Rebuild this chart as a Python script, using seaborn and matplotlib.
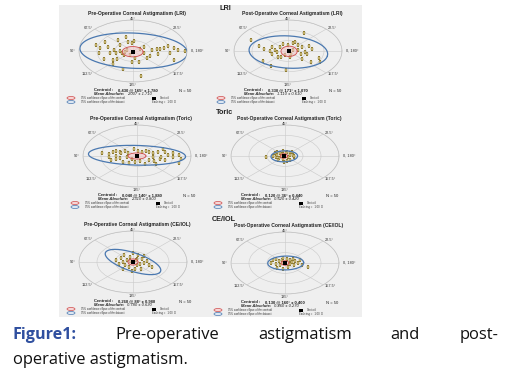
import numpy as np
import matplotlib
matplotlib.use("Agg")
import matplotlib.pyplot as plt
import seaborn as sns
from matplotlib.patches import Rectangle, Ellipse

sns.set_theme(style="white")
plt.rcParams['font.family'] = ['Liberation Sans', 'DejaVu Sans']

# ---------------- data (double-angle vector components, dioptres) ----------------
angle_labels = ["0, 180°", "22.5°", "45°", "67.5°", "90°", "112.5°", "135°", "157.5°"]
ring_values = [1, 2, 3]

lri_pre_x = [-1.56, -2.06, -0.81, -0.40, -0.27, -0.75, -1.37, -1.08, -1.83, -1.90, -1.29, -1.10,
             -0.88, -0.71, -0.62, -0.44, -0.33, 0.08, -0.06, 0.40, 0.63, 0.12, -0.08, 0.33,
             0.79, 0.92, 1.08, 1.31, 1.50, 1.71, 1.94, 2.08, 2.29, 2.52, 2.87, 2.27, 1.40,
             -0.56, 0.44, -1.60, -0.94, -0.52, -0.17, 0.63, -1.13]
lri_pre_y = [0.83, 0.60, 1.03, 1.37, 0.87, 0.60, 0.43, 0.10, 0.27, -0.23, -0.23, -0.83,
             -0.77, 0.03, -0.23, -0.10, 0.10, 1.00, 0.73, 0.17, -0.23, -0.63, -1.07, -1.07,
             -0.63, -0.47, 0.10, 0.17, 0.17, 0.33, 0.53, -0.23, 0.27, 0.10, 0.00, -0.83, -0.30,
             -1.73, -2.40, -0.73, -0.23, -0.40, -0.40, 0.43, -1.23]

lri_post_x = [-2.06, 0.87, -1.63, -1.35, -0.87, -0.71, -0.87, -0.58, -0.42, -0.29, 0.00, 0.29,
              0.38, 0.58, 0.77, 1.15, 1.35, 1.06, 0.96, 0.73, 0.29, -0.19, 0.10, -0.38, 0.77,
              1.25, 1.73, 1.79, -1.40, -0.96, -0.13, -0.62, 0.19, -1.02, 0.58]
lri_post_y = [1.07, 1.73, 0.47, 0.23, 0.40, 0.13, -0.27, -0.60, 0.40, 0.67, 0.57, 0.73,
              0.83, 0.57, 0.40, 0.47, 0.23, -0.27, -0.10, -0.27, 0.07, -0.43, -0.60, -0.60, -0.77,
              -1.10, -0.67, -1.10, -0.93, -1.43, -1.87, -0.10, -0.27, 0.00, 0.07]

toric_pre_x = [-1.92, -1.54, -1.35, -1.15, -0.96, -0.87, -0.67, -0.48, -0.19, 0.04, 0.29, 0.48,
               0.67, 0.87, 1.15, 1.44, 1.58, 1.73, 2.02, 2.31, 2.46, 2.35, 1.54, 1.25, 0.96,
               0.67, 0.42, 0.19, -0.29, -0.58, -0.96, -1.19, -1.44, -1.58, -1.15, -0.77, -0.42,
               -0.10, 0.87, 1.06, 2.02, 1.35]
toric_pre_y = [0.33, 0.20, 0.43, 0.53, 0.43, 0.27, 0.53, 0.33, 0.67, 0.53, 0.43, 0.53,
               0.40, 0.27, 0.43, 0.67, 0.43, 0.10, -0.07, 0.10, -0.33, -0.67, -0.40, -0.33, -0.47,
               -0.40, -0.73, -0.47, -0.33, -0.13, -0.23, -0.33, -0.40, -0.13, 0.00, -0.57, -0.67,
               -0.57, -0.13, -0.73, 0.27, -0.07]

toric_post_x = [-1.06, -0.58, -0.44, -0.29, -0.13, 0.13, 0.29, 0.44, 0.48, 0.29, 0.13, -0.10,
                -0.33, -0.52, -0.44, -0.25, 0.19, 0.25, 0.06, -0.19, -0.38, 0.38, 0.52, -0.06, -0.67]
toric_post_y = [-0.13, 0.27, 0.40, 0.33, 0.47, 0.37, 0.27, 0.10, -0.13, -0.40, -0.53, -0.33,
                -0.23, -0.13, 0.07, 0.00, -0.13, 0.13, 0.27, 0.17, -0.40, 0.43, 0.00, -0.60, 0.00]

ceiol_pre_x = [-0.67, -0.48, -0.35, -0.19, -0.54, -0.77, -0.42, -0.23, 0.10, -0.04, 0.23, 0.38,
               0.62, 0.77, 0.48, 0.29, 0.23, 0.15, 0.62, 0.87, 1.06, -0.19, -0.96, 0.00, -0.58, 0.42]
ceiol_pre_y = [0.43, 0.67, 0.23, 0.10, 0.00, -0.17, -0.33, -0.50, -0.67, -0.83, -0.33, -0.17,
               -0.10, 0.10, 0.33, 0.67, 0.33, 0.17, 0.57, -0.33, -0.50, 0.50, 0.17, 0.83, -0.67, -0.67]

ceiol_post_x = [-0.67, -0.48, -0.33, -0.19, -0.10, 0.10, 0.25, 0.44, 0.58, 0.71, 0.83, 1.25,
                0.96, 0.48, 0.29, -0.29, -0.52, -0.77, -0.10, 0.19, -0.44, 0.38, -0.13]
ceiol_post_y = [0.27, 0.43, 0.20, 0.33, 0.53, 0.43, 0.27, 0.43, 0.20, 0.00, 0.27, -0.40,
                -0.23, -0.23, -0.13, -0.23, -0.13, 0.00, -0.57, -0.40, -0.47, 0.10, 0.00]

# ellipse parameters: centre x, centre y, semi-axis a, semi-axis b, rotation (deg)
blue_ellipses = [(0.04, 0.03, 3.00, 1.70, -6), (0.02, -0.10, 2.20, 1.55, -10),
                 (0.00, 0.07, 2.70, 0.95, -3), (-0.04, -0.03, 0.74, 0.53, 5),
                 (0.00, 0.00, 1.80, 0.80, -35), (0.04, 0.00, 1.00, 0.67, 3)]
red_ellipses = [(-0.02, -0.07, 0.58, 0.50, 0), (0.06, -0.03, 0.45, 0.50, 0),
                (0.00, 0.00, 0.50, 0.30, 0), (-0.06, 0.00, 0.20, 0.22, 0),
                (0.00, 0.00, 0.28, 0.30, 0), (0.00, 0.00, 0.22, 0.22, 0)]
centroid_x = [-0.02, 0.06, 0.00, -0.06, 0.00, 0.00]
centroid_y = [-0.07, -0.03, 0.00, 0.00, 0.00, 0.00]

titles = ["Pre-Operative Corneal Astigmatism (LRI)", "Post-Operative Corneal Astigmatism (LRI)",
          "Pre-Operative Corneal Astigmatism (Toric)", "Post-Operative Corneal Astigmatism (Toric)",
          "Pre-Operative Corneal Astigmatism (CE/IOL)", "Post-Operative Corneal Astigmatism (CE/IOL)"]
centroid_text = ["0.430 @ 165° ± 1.780", "0.330 @ 171° ± 1.070", "0.040 @ 140° ± 1.880",
                 "0.120 @ 36° ± 0.440", "0.260 @ 88° ± 0.980", "0.130 @ 160° ± 0.400"]
mean_text = ["2.007 ± 1.710", "1.110 ± 0.610", "2.310 ± 0.800",
             "0.520 ± 0.420", "0.780 ± 0.630", "0.460 ± 0.270"]
n_text = ["N = 50"] * 6
sections = ["LRI", "Toric", "CE/IOL"]

xs = [lri_pre_x, lri_post_x, toric_pre_x, toric_post_x, ceiol_pre_x, ceiol_post_x]
ys = [lri_pre_y, lri_post_y, toric_pre_y, toric_post_y, ceiol_pre_y, ceiol_post_y]

# ---------------- layout ----------------
W, H = 505, 379
fig = plt.figure(figsize=(W / 100, H / 100), dpi=100)
fig.patch.set_facecolor("white")


def fx(x):
    return x / W


def fy(y):
    return 1 - y / H


fig.patches.append(Rectangle((fx(59), fy(317)), (362 - 59) / W, (317 - 5) / H,
                             transform=fig.transFigure, facecolor="#efefef",
                             edgecolor="none", zorder=-10))

centers = [(133, 51), (288, 51), (137, 156), (285, 156), (133, 262), (285, 263)]
RX, RY = 54, 31
PT_FACE, PT_EDGE = "#dccb85", "#8f7d35"
BLUE, RED = "#4a78b0", "#cf4a4a"
label_align = [("left", 3.2), ("left", 3.15), ("center", 3.12), ("right", 3.15),
               ("right", 3.2), ("right", 3.15), ("center", 3.25), ("left", 3.15)]


def ellipse_polar(p):
    cx, cy, a, b, ang = p
    t = np.linspace(0, 2 * np.pi, 300)
    ca, sa = np.cos(np.radians(ang)), np.sin(np.radians(ang))
    ex = cx + a * np.cos(t) * ca - b * np.sin(t) * sa
    ey = cy + a * np.cos(t) * sa + b * np.sin(t) * ca
    return np.unwrap(np.arctan2(ey, ex)), np.hypot(ex, ey)


for i, (cx, cy) in enumerate(centers):
    ax = fig.add_axes([fx(cx - RX), fy(cy + RY), 2 * RX / W, 2 * RY / H], projection="polar")
    ax.set_aspect("auto")
    ax.set_facecolor("none")
    ax.set_zorder(2)
    x = np.array(xs[i])
    y = np.array(ys[i])
    sns.scatterplot(x=np.arctan2(y, x), y=np.hypot(x, y), ax=ax, marker="s", s=3.6,
                    color=PT_FACE, edgecolor=PT_EDGE, linewidth=0.3, legend=False, zorder=3)
    th, rr = ellipse_polar(blue_ellipses[i])
    ax.plot(th, rr, color=BLUE, lw=0.9, zorder=4)
    th, rr = ellipse_polar(red_ellipses[i])
    ax.fill(th, rr, color="#f2c4c4", alpha=0.55, lw=0, zorder=4.5)
    ax.plot(th, rr, color=RED, lw=0.6, zorder=5)
    ax.scatter([np.arctan2(centroid_y[i], centroid_x[i])], [np.hypot(centroid_x[i], centroid_y[i])],
               marker="s", s=5, color="black", zorder=6, linewidths=0)
    ax.set_ylim(0, 3)
    angs = np.arange(0, 360, 45)
    ax.set_rgrids(ring_values, labels=[""] * len(ring_values))
    ax.set_thetagrids(angs, labels=[""] * len(angs))
    ax.grid(color="#c9c9c9", lw=0.4)
    ax.spines["polar"].set_color("#c0c0c0")
    ax.spines["polar"].set_linewidth(0.5)
    ax.set_xlabel("")
    ax.set_ylabel("")
    for a_deg, lab, (ha, rl) in zip(angs, angle_labels, label_align):
        ax.text(np.radians(a_deg), rl, lab, fontsize=2.8, ha=ha, va="center",
                color="#333333", clip_on=False)

    sh = 0 if i % 2 == 0 else -5
    # title
    fig.text(fx(cx + 4), fy(cy - 37.8), titles[i], fontsize=3.6, fontweight="bold",
             ha="center", va="center", color="#222222")
    # statistics block
    fig.text(fx(cx - 39 + sh), fy(cy + 39), "Centroid :", fontsize=3.0, fontweight="bold",
             ha="left", va="center", color="#222222")
    fig.text(fx(cx - 15 + sh), fy(cy + 39), centroid_text[i], fontsize=3.0, fontweight="bold",
             ha="left", va="center", color="#222222")
    fig.text(fx(cx + 46 + sh), fy(cy + 40), n_text[i], fontsize=3.0,
             ha="left", va="center", color="#222222")
    fig.text(fx(cx - 39 + sh), fy(cy + 43), "Mean Absolute:", fontsize=3.0, fontstyle="italic",
             fontweight="bold", ha="left", va="center", color="#222222")
    fig.text(fx(cx - 6 + sh), fy(cy + 43), mean_text[i], fontsize=3.0, fontstyle="italic",
             ha="left", va="center", color="#222222")
    # legend
    fig.patches.append(Ellipse((fx(cx - 62 + sh), fy(cy + 47)), 8 / W, 3 / H,
                               transform=fig.transFigure, facecolor="#f6d6d6",
                               edgecolor=RED, lw=0.5))
    fig.patches.append(Ellipse((fx(cx - 62 + sh), fy(cy + 51)), 8 / W, 3 / H,
                               transform=fig.transFigure, facecolor="#dde7f3",
                               edgecolor=BLUE, lw=0.5))
    fig.text(fx(cx - 52 + sh), fy(cy + 47), "95% confidence ellipse of the centroid", fontsize=1.9,
             ha="left", va="center", color="#333333")
    fig.text(fx(cx - 52 + sh), fy(cy + 51), "95% confidence ellipse of the dataset", fontsize=1.9,
             ha="left", va="center", color="#333333")
    fig.patches.append(Rectangle((fx(cx + 19 + sh), fy(cy + 48.5)), 4 / W, 3 / H,
                                 transform=fig.transFigure, facecolor="black", edgecolor="none"))
    fig.text(fx(cx + 27 + sh), fy(cy + 47), "Centroid", fontsize=1.9,
             ha="left", va="center", color="#333333")
    fig.text(fx(cx + 19 + sh), fy(cy + 51), "Each ring =   1.00  D", fontsize=1.9,
             ha="left", va="center", color="#333333")

for lab, (xx, yy) in zip(sections, [(225, 8), (224, 113), (224, 219)]):
    fig.text(fx(xx), fy(yy), lab, fontsize=5.2, fontweight="bold", ha="center", va="center",
             color="#222222")

# caption
cap_blue = "#2f4f9f"
cap_font = ["Open Sans", "DejaVu Sans"]
fig.text(fx(13), fy(335), "Figure1:", fontsize=11.6, fontweight="bold", color=cap_blue,
         ha="left", va="center", family=cap_font)
for word, xx in [("Pre-operative", 115), ("astigmatism", 258), ("and", 390), ("post-", 460)]:
    fig.text(fx(xx), fy(335), word, fontsize=11.9, color="#111111", ha="left", va="center",
             family=cap_font)
fig.text(fx(13), fy(360), "operative astigmatism.", fontsize=11.9, color="#111111",
         ha="left", va="center", family=cap_font)

fig.savefig("out.png", dpi=100, facecolor="white")
